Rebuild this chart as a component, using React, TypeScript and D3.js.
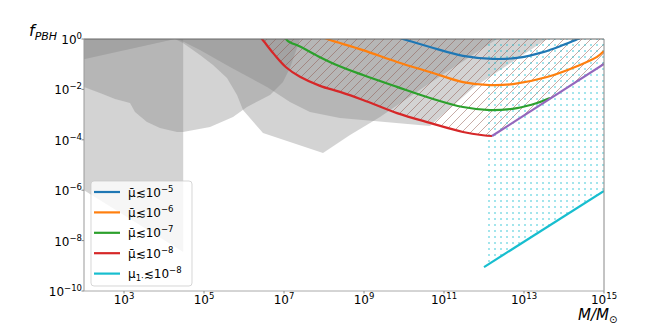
import * as d3 from "d3";

const W = 672;
const H = 328;

// all values are log10(M/Msun), log10(f_PBH)
const boxRegion = [[2, 0.3], [4.48, 0.3], [4.48, -8.45], [2, -6.0]];
const cornerBand = [[2, 0.3], [4.28, 0], [2, -0.8]];
const regionB = [
  [2, 0.3], [2, -1.9], [2.4, -2.14], [2.775, -2.38], [3.15, -2.54], [3.275, -2.9],
  [3.575, -3.29], [3.9, -3.53], [4.325, -3.69], [4.475, -3.69], [5.15, -3.49],
  [5.725, -3.1], [6.075, -2.7], [6.65, -2.22], [6.975, -1.71], [7.15, -1.15],
  [7.325, -0.36], [7.4, 0], [7.4, 0.3],
];
const regionC = [
  [4.275, 0], [4.475, -0.16], [4.9, -0.63], [5.225, -1.03], [5.575, -1.55],
  [5.825, -2.22], [5.975, -2.82], [6.475, -3.73], [7.975, -4.52], [8.65, -3.81],
  [9.4, -3.1], [10.65, -1.75], [12.325, 0], [12.325, 0.3], [4.275, 0.3],
];
const regionD = [
  [4.35, 0], [4.9, -0.44], [5.65, -1.11], [6.575, -1.9], [7.15, -2.5], [7.65, -2.9],
  [8.4, -3.13], [10.65, -3.45], [11.725, -1.94], [13.575, 0], [13.575, 0.3], [4.35, 0.3],
];

const mu5 = [
  [9.8, 0.08], [9.975, 0], [10.65, -0.32], [11.475, -0.67], [12.225, -0.79],
  [12.825, -0.75], [13.475, -0.52], [13.975, -0.24], [14.35, 0], [14.5, 0.1],
];
const mu6 = [
  [8.0, 0.05], [8.15, -0.04], [8.975, -0.44], [9.825, -0.91], [10.65, -1.31],
  [11.475, -1.71], [12.15, -1.83], [12.725, -1.79], [13.575, -1.51], [14.4, -1.03],
  [14.825, -0.71], [15.0, -0.48],
];
const mu7 = [
  [7.02, 0.08], [7.1, -0.08], [7.4, -0.3], [7.825, -0.66], [8.3, -1.02],
  [8.975, -1.43], [9.825, -1.9], [10.65, -2.34], [11.475, -2.7],
  [12.15, -2.82], [12.825, -2.74], [13.325, -2.54], [13.65, -2.34],
];
const mu8 = [
  [6.4, 0.1], [6.5, -0.1], [6.75, -0.6], [7.05, -1.12], [7.4, -1.5], [7.9, -1.86],
  [8.4, -2.1], [8.975, -2.42], [9.825, -2.94], [10.65, -3.33], [11.475, -3.69],
  [11.975, -3.82], [12.2, -3.85],
];
const purpleLine = [[12.2, -3.85], [15.0, -0.99]];
const mu1Line = [[12.0, -9.05], [15.0, -6.03]];
const dotRegion = [[12.0, 0], [15.0, 0], [15.0, -6.03], [12.0, -9.05]];

const xTicks = [3, 5, 7, 9, 11, 13, 15];
const yTicks = [0, -2, -4, -6, -8, -10];

const legendItems = [
  { color: "#1f77b4", exp: "−5", bar: true },
  { color: "#ff7f0e", exp: "−6", bar: true },
  { color: "#2ca02c", exp: "−7", bar: true },
  { color: "#d62728", exp: "−8", bar: true },
  { color: "#17becf", exp: "−8", bar: false },
];

const FONT = "DejaVu Sans, sans-serif";

export default function App() {
  const x = d3.scaleLog().domain([1e2, 1e15]).range([84, 604]);
  const y = d3.scaleLog().domain([1e-10, 1]).range([291, 39]);
  const px = (e: number) => x(10 ** e);
  const py = (e: number) => y(10 ** e);

  const poly = d3.line<number[]>().x((d) => px(d[0])).y((d) => py(d[1]));
  const smooth = d3
    .line<number[]>()
    .x((d) => px(d[0]))
    .y((d) => py(d[1]))
    .curve(d3.curveCatmullRom.alpha(0.5));

  const greys = [boxRegion, cornerBand, regionB, regionC, regionD];
  const redPath = smooth(mu8) as string;
  const hatchPath =
    redPath +
    `L${px(purpleLine[1][0])},${py(purpleLine[1][1])}` +
    `L${px(15)},${py(0.3)}L${px(6.4)},${py(0.3)}Z`;

  const [x0, x1] = x.range();
  const [yb, yt] = y.range();

  const pow = (exp: string) => (
    <>
      <tspan>10</tspan>
      <tspan dy={-5} fontSize={8.5}>{exp}</tspan>
    </>
  );

  return (
    <svg
      width={W}
      height={H}
      style={{ position: "absolute", left: 0, top: 0, background: "#fff" }}
      fontFamily={FONT}
    >
      <defs>
        <clipPath id="plot">
          <rect x={x0} y={yt} width={x1 - x0} height={yb - yt} />
        </clipPath>
        <pattern id="hatch" patternUnits="userSpaceOnUse" width={9} height={9}>
          <path
            d="M0,9L9,0M-1,1L1,-1M8,10L10,8"
            stroke="#8c564b"
            strokeOpacity={0.7}
            strokeWidth={0.7}
          />
        </pattern>
        <pattern id="dots" patternUnits="userSpaceOnUse" width={6} height={6}>
          <circle cx={3} cy={3} r={0.75} fill="#17becf" />
        </pattern>
      </defs>

      <g clipPath="url(#plot)">
        {greys.map((g, i) => (
          <path key={i} d={poly(g) + "Z"} fill="#808080" fillOpacity={0.35} />
        ))}
        <path d={hatchPath} fill="url(#hatch)" />
        <path d={poly(dotRegion) + "Z"} fill="url(#dots)" />
        {[
          { d: mu5, c: "#1f77b4" },
          { d: mu6, c: "#ff7f0e" },
          { d: mu7, c: "#2ca02c" },
          { d: mu8, c: "#d62728" },
        ].map((s, i) => (
          <path key={i} d={smooth(s.d) as string} fill="none" stroke={s.c} strokeWidth={2.2} />
        ))}
        <path d={poly(purpleLine) as string} fill="none" stroke="#9467bd" strokeWidth={2.2} />
        <path d={poly(mu1Line) as string} fill="none" stroke="#17becf" strokeWidth={2.2} />
      </g>

      {/* spines */}
      <line x1={x0} x2={x1} y1={yt} y2={yt} stroke="#666" />
      <line x1={x0} x2={x0} y1={yt} y2={yb} stroke="#999" />
      <line x1={x1} x2={x1} y1={yt} y2={yb} stroke="#888" />
      <line x1={x0} x2={x1} y1={yb} y2={yb} stroke="#aaa" />

      {xTicks.map((t) => (
        <g key={t}>
          <line x1={px(t)} x2={px(t)} y1={yb} y2={yb + 2.5} stroke="#888" />
          <text x={px(t)} y={304} textAnchor="middle" fontSize={12}>
            {pow(String(t))}
          </text>
        </g>
      ))}
      {yTicks.map((t) => (
        <g key={t}>
          <line x1={x0 - 2.5} x2={x0} y1={py(t)} y2={py(t)} stroke="#888" />
          <text x={82} y={py(t) + 5} textAnchor="end" fontSize={12}>
            {pow(t === 0 ? "0" : "−" + String(-t))}
          </text>
        </g>
      ))}

      <text x={29} y={36} fontSize={16} fontStyle="italic">
        f<tspan dy={4} fontSize={11}>PBH</tspan>
      </text>
      <text x={578} y={320} fontSize={15} fontStyle="italic">
        M/M<tspan dy={3} fontSize={10} fontStyle="normal">⊙</tspan>
      </text>

      {/* legend */}
      <rect
        x={91}
        y={181}
        width={101}
        height={105}
        rx={3}
        fill="#fff"
        fillOpacity={0.8}
        stroke="#ccc"
        strokeOpacity={0.8}
      />
      {legendItems.map((it, i) => {
        const ly = 192 + i * 20.4;
        return (
          <g key={i}>
            <line x1={94} x2={120} y1={ly} y2={ly} stroke={it.color} strokeWidth={2.2} />
            <text x={128} y={ly + 4.5} fontSize={12}>
              {it.bar ? (
                <>
                  <tspan>{"\u03bc\u0304≲10"}</tspan>
                  <tspan dy={-5} fontSize={8.5}>{it.exp}</tspan>
                </>
              ) : (
                <>
                  <tspan>μ</tspan>
                  <tspan dy={3} fontSize={8.5}>1·</tspan>
                  <tspan dy={-3}>≲10</tspan>
                  <tspan dy={-5} fontSize={8.5}>{it.exp}</tspan>
                </>
              )}
            </text>
          </g>
        );
      })}
    </svg>
  );
}
